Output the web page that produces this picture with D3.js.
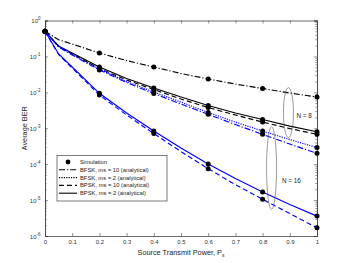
<!DOCTYPE html>
<html><head><meta charset="utf-8">
<script src="https://cdn.jsdelivr.net/npm/d3@7"></script>
<style>body{margin:0;background:#fff;} svg{display:block;font-family:"Liberation Sans",Arial,sans-serif;}</style>
</head><body>
<svg id="c" width="350" height="263"></svg>
<script>
// ---- data ----
const powerGrid = [0, 0.05, 0.1, 0.2, 0.3, 0.4, 0.5, 0.6, 0.7, 0.8, 0.9, 1.0];
const simPower = [0, 0.2, 0.4, 0.6, 0.8, 1.0];
const berN8BfskMs10 = [0.5, 0.292, 0.221, 0.124, 0.0769, 0.0507, 0.0334, 0.0235, 0.0170, 0.0128, 0.00957, 0.0074];
const berN8BpskMs2  = [0.5, 0.195, 0.124, 0.0507, 0.0242, 0.0132, 0.0074, 0.00429, 0.00265, 0.00175, 0.00115, 0.00080];
const berN8BpskMs10 = [0.5, 0.189, 0.117, 0.0460, 0.0220, 0.0120, 0.0065, 0.00377, 0.00233, 0.00149, 0.00098, 0.000676];
const berN16BfskMs2 = [0.5, 0.189, 0.117, 0.0446, 0.0200, 0.0102, 0.00537, 0.00274, 0.00149, 0.000836, 0.000484, 0.000290];
const berN16BfskMs10= [0.5, 0.183, 0.109, 0.0418, 0.0188, 0.00927, 0.00472, 0.00244, 0.00127, 0.000676, 0.000363, 0.000200];
const berN16BpskMs2 = [0.5, 0.117, 0.0507, 0.00938, 0.00265, 0.000836, 0.000281, 0.000101, 3.97e-5, 1.67e-5, 7.5e-6, 3.58e-6];
const berN16BpskMs10= [0.5, 0.113, 0.0475, 0.00841, 0.00233, 0.000711, 0.000224, 7.45e-5, 2.70e-5, 1.05e-5, 4.21e-6, 1.69e-6];
const xTickLabels = ["0","0.1","0.2","0.3","0.4","0.5","0.6","0.7","0.8","0.9","1"];
const yTickExponents = [0, -1, -2, -3, -4, -5, -6];
const legendLabels = ["Simulation","BFSK, ms = 10 (analytical)","BFSK, ms = 2 (analytical)","BPSK, ms = 10 (analytical)","BPSK, ms = 2 (analytical)"];
const groupLabels = ["N = 8", "N = 16"];

// ---- styles ----
const DASH = {dashdot: "6,2,1.2,2", dotted: "1.2,1.2", dashed: "5,3", solid: null};
const series = [
  {v: berN8BfskMs10, color: "#000", dash: "dashdot"},
  {v: berN8BpskMs10, color: "#000", dash: "dashed"},
  {v: berN8BpskMs2,  color: "#000", dash: "solid"},
  {v: berN16BfskMs2, color: "#0000ff", dash: "dotted"},
  {v: berN16BfskMs10,color: "#0000ff", dash: "dashdot"},
  {v: berN16BpskMs10,color: "#0000ff", dash: "dashed"},
  {v: berN16BpskMs2, color: "#0000ff", dash: "solid"}
];

const svg = d3.select("#c");
const L = 45, R = 317, T = 20.5, B = 236;
const x = d3.scaleLinear().domain([0, 1]).range([L, R]);
const y = d3.scaleLog().domain([1e-6, 1]).range([B, T]);

// axes (inward ticks, box)
const xTicks = d3.range(0, 11).map(i => i / 10);
const g = svg.append("g");
const axB = d3.axisBottom(x).tickValues(xTicks).tickSize(-3).tickFormat((d, i) => xTickLabels[i]);
const gb = g.append("g").attr("transform", `translate(0,${B})`).call(axB);
gb.selectAll("text").attr("dy", null).attr("y", 8).style("font-size", "6px").attr("fill", "#333");
g.append("g").attr("transform", `translate(0,${T})`).call(d3.axisTop(x).tickValues(xTicks).tickSize(-3).tickFormat(""));

const minor = [];
for (let e = -6; e < 0; e++) for (let m = 2; m <= 9; m++) minor.push(m * Math.pow(10, e));
const majors = yTickExponents.map(e => Math.pow(10, e));
g.append("g").attr("transform", `translate(${L},0)`).call(d3.axisLeft(y).tickValues(majors).tickSize(-3).tickFormat(""));
g.append("g").attr("transform", `translate(${L},0)`).call(d3.axisLeft(y).tickValues(minor).tickSize(-1.6).tickFormat(""));
g.append("g").attr("transform", `translate(${R},0)`).call(d3.axisRight(y).tickValues(majors).tickSize(-3).tickFormat(""));
g.append("g").attr("transform", `translate(${R},0)`).call(d3.axisRight(y).tickValues(minor).tickSize(-1.6).tickFormat(""));
g.selectAll(".domain").attr("stroke", "#444").attr("stroke-width", 0.8);
g.selectAll(".tick line").attr("stroke", "#444").attr("stroke-width", 0.6);

// y tick labels 10^e
yTickExponents.forEach(e => {
  const t = svg.append("text").attr("x", L - 4.5).attr("y", y(Math.pow(10, e)) + 2.5)
    .attr("text-anchor", "end").style("font-size", "6px").attr("fill", "#333");
  t.append("tspan").text("10");
  t.append("tspan").attr("dy", -3).style("font-size", "4.5px").text(String(e));
});

// axis titles
const xt = svg.append("text").attr("x", 181).attr("y", 255).attr("text-anchor", "middle").style("font-size", "7.3px").attr("fill", "#222");
xt.append("tspan").text("Source Transmit Power, P");
xt.append("tspan").attr("dy", 2).style("font-size", "5px").text("s");
svg.append("text").attr("transform", `translate(27,${(T + B) / 2}) rotate(-90)`).attr("text-anchor", "middle")
  .style("font-size", "7.3px").attr("fill", "#222").text("Average BER");

// lines
const line = d3.line().x((d, i) => x(powerGrid[i])).y(d => y(d));
series.forEach(s => {
  svg.append("path").datum(s.v).attr("d", line).attr("fill", "none")
    .attr("stroke", s.color).attr("stroke-width", 1.15)
    .attr("stroke-dasharray", DASH[s.dash]);
});
// simulation markers
series.forEach(s => {
  simPower.forEach(p => {
    const i = powerGrid.indexOf(p);
    svg.append("circle").attr("cx", x(p)).attr("cy", y(s.v[i])).attr("r", 2.5).attr("fill", "#000");
  });
});

// group annotations (ellipses)
const ann = [
  {cx: 0.895, top: 0.0135, bot: 0.00055, label: groupLabels[0], lx: 0.925, ly: 0.0019},
  {cx: 0.833, top: 0.0011, bot: 5.5e-6, label: groupLabels[1], lx: 0.871, ly: 2.9e-5}
];
ann.forEach(a => {
  const yt = y(a.top), yb = y(a.bot);
  svg.append("ellipse").attr("cx", x(a.cx)).attr("cy", (yt + yb) / 2).attr("rx", 5).attr("ry", (yb - yt) / 2)
    .attr("fill", "none").attr("stroke", "#555").attr("stroke-width", 0.6);
  svg.append("text").attr("x", x(a.lx)).attr("y", y(a.ly)).style("font-size", "6.3px").attr("fill", "#222").text(a.label);
});

// legend
const lg = svg.append("g");
lg.append("rect").attr("x", 57).attr("y", 155.5).attr("width", 110).attr("height", 45.5)
  .attr("fill", "#fff").attr("stroke", "#444").attr("stroke-width", 0.7);
const legStyles = [null, "dashdot", "dotted", "dashed", "solid"];
legendLabels.forEach((lab, i) => {
  const yy = 162 + i * 7.8;
  if (i === 0) {
    lg.append("circle").attr("cx", 68).attr("cy", yy).attr("r", 2.4).attr("fill", "#000");
  } else {
    lg.append("line").attr("x1", 59).attr("x2", 77).attr("y1", yy).attr("y2", yy)
      .attr("stroke", "#000").attr("stroke-width", 1.1).attr("stroke-dasharray", DASH[legStyles[i]]);
  }
  lg.append("text").attr("x", 80).attr("y", yy + 2).style("font-size", "5.8px").attr("fill", "#222").text(lab);
});
</script>
</body></html>
